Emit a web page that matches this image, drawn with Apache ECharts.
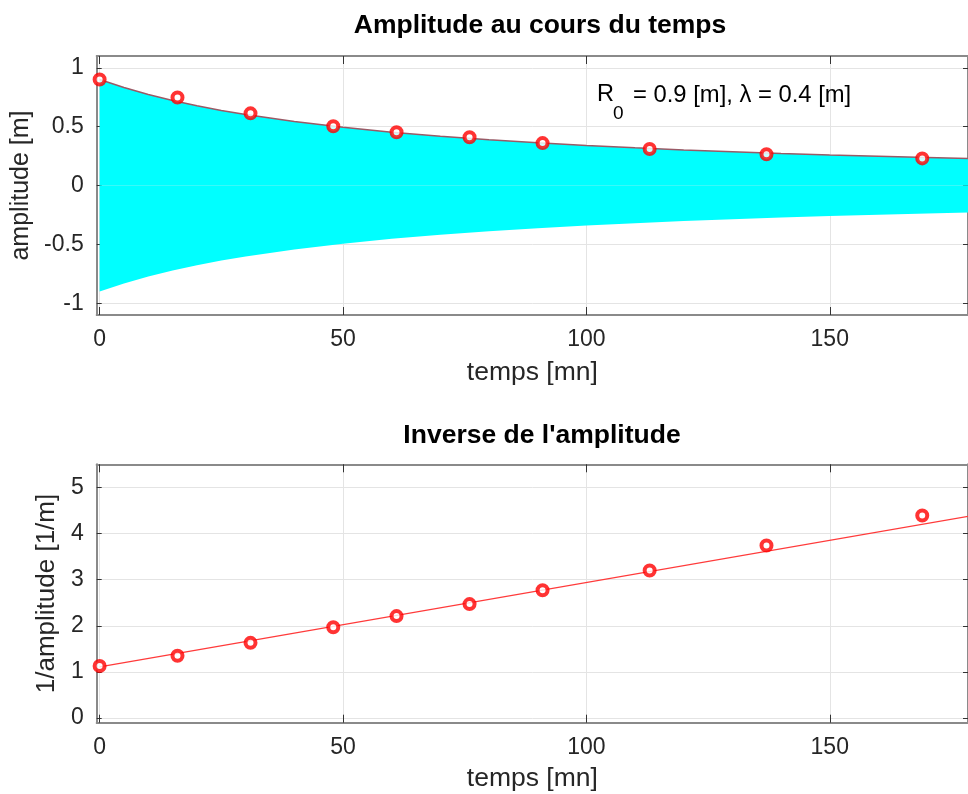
<!DOCTYPE html>
<html>
<head>
<meta charset="utf-8">
<script src="https://cdn.jsdelivr.net/npm/echarts@6/dist/echarts.min.js"></script>
<style>
  html, body { margin: 0; padding: 0; background: #ffffff; }
  #chart { width: 968px; height: 794px; }
</style>
</head>
<body>
<div id="chart"></div>
<script>
// Measured amplitudes of the damped oscillation (time in minutes, amplitude in metres)
const times = [0, 16, 31, 48, 61, 76, 91, 113, 137, 169];
const amplitudes = [0.90, 0.748, 0.613, 0.503, 0.452, 0.41, 0.36, 0.31, 0.265, 0.23];
const inverseAmplitudes = [1.13, 1.35, 1.63, 1.97, 2.21, 2.47, 2.77, 3.20, 3.74, 4.39];

// Fitted envelope R(t) of the oscillation
const envelopeTimes = [0, 5, 10, 15, 20, 25, 30, 40, 50, 60, 70, 80, 90, 100, 110, 120, 130, 140, 150, 160, 170, 180];
const envelopeValues = [0.901, 0.832, 0.773, 0.722, 0.678, 0.638, 0.603, 0.543, 0.494, 0.453, 0.418, 0.389, 0.363, 0.340, 0.320, 0.302, 0.287, 0.272, 0.259, 0.248, 0.237, 0.227];

// Straight-line fit of 1/amplitude
const fitTimes = [0, 180];
const fitValues = [1.11, 4.40];

// Tick positions
const timeTicks = [0, 50, 100, 150];
const amplitudeTicks = [-1, -0.5, 0, 0.5, 1];
const inverseTicks = [0, 1, 2, 3, 4, 5];

const FONT = '"Liberation Sans", Arial, Helvetica, sans-serif';
const TEXT = '#262626';
const AXIS = '#8a8a8a';
const GRIDLINE = '#e4e4e4';
const RED = '#ff0000';

const pairs = (xs, ys) => xs.map((x, i) => [x, ys[i]]);

const X_MIN = -0.6, X_MAX = 178.4;

function xAxisPair(gridIndex, nameGap) {
  const common = {
    type: 'value', gridIndex, min: X_MIN, max: X_MAX,
    axisLine: { show: true, onZero: false, lineStyle: { color: AXIS, width: 2 } },
    axisTick: { show: true, inside: true, length: 8, customValues: timeTicks, lineStyle: { color: '#333', width: 1 } },
    splitLine: { show: false }
  };
  return [
    Object.assign({}, common, {
      position: 'bottom',
      name: 'temps [mn]', nameLocation: 'middle', nameGap,
      nameTextStyle: { fontFamily: FONT, fontSize: 26.5, color: TEXT },
      axisLabel: { show: true, margin: 13, customValues: timeTicks, fontFamily: FONT, fontSize: 23, color: TEXT },
      splitLine: { show: true, lineStyle: { color: GRIDLINE, width: 1 } }
    }),
    Object.assign({}, common, {
      position: 'top',
      axisLabel: { show: false }
    })
  ];
}

function yAxisPair(gridIndex, min, max, ticks, name, nameGap, nameSize) {
  const common = {
    type: 'value', gridIndex, min, max,
    axisLine: { show: true, onZero: false, lineStyle: { color: AXIS, width: 2 } },
    axisTick: { show: true, inside: true, length: 5, customValues: ticks, lineStyle: { color: '#333', width: 1 } },
    splitLine: { show: false }
  };
  return [
    Object.assign({}, common, {
      position: 'left',
      name, nameLocation: 'middle', nameGap, nameRotate: 90,
      nameTextStyle: { fontFamily: FONT, fontSize: nameSize, color: TEXT },
      axisLabel: { show: true, margin: 13, customValues: ticks, fontFamily: FONT, fontSize: 23, color: TEXT },
      splitLine: { show: true, lineStyle: { color: GRIDLINE, width: 1 } }
    }),
    Object.assign({}, common, {
      position: 'right',
      axisLabel: { show: false }
    })
  ];
}

// Open red rings with a thick outline
const markerStyle = {
  symbol: 'circle', symbolSize: 10,
  itemStyle: { color: '#ffffff', borderColor: RED, borderWidth: 4 }
};

const option = {
  animation: false,
  backgroundColor: '#ffffff',
  title: [
    { text: 'Amplitude au cours du temps', left: 535, top: 7, textAlign: 'center',
      textStyle: { fontFamily: FONT, fontSize: 26.5, fontWeight: 'bold', color: '#000' } },
    { text: "Inverse de l'amplitude", left: 537, top: 417, textAlign: 'center',
      textStyle: { fontFamily: FONT, fontSize: 26.5, fontWeight: 'bold', color: '#000' } }
  ],
  grid: [
    { left: 96.7, top: 56, width: 872.3, height: 259 },
    { left: 96.7, top: 464.3, width: 872.3, height: 258.4 }
  ],
  xAxis: [...xAxisPair(0, 44), ...xAxisPair(1, 42)],
  yAxis: [
    ...yAxisPair(0, -1.1, 1.1, amplitudeTicks, 'amplitude [m]', 61, 25),
    ...yAxisPair(1, -0.1, 5.5, inverseTicks, '1/amplitude [1/m]', 35, 26)
  ],
  series: [
    // Filled band between +R(t) and -R(t)
    {
      type: 'line', xAxisIndex: 0, yAxisIndex: 0,
      data: pairs(envelopeTimes, envelopeValues),
      symbol: 'none', smooth: false,
      lineStyle: { color: '#9a5a66', width: 1.5 },
      areaStyle: { color: '#00ffff', opacity: 1 },
      z: 2
    },
    {
      type: 'line', xAxisIndex: 0, yAxisIndex: 0,
      data: pairs(envelopeTimes, envelopeValues.map(v => -v)),
      symbol: 'none', smooth: false,
      lineStyle: { width: 0 },
      areaStyle: { color: '#00ffff', opacity: 1 },
      z: 2
    },
    // Measured amplitudes
    Object.assign({
      type: 'scatter', xAxisIndex: 0, yAxisIndex: 0,
      data: pairs(times, amplitudes), z: 5
    }, markerStyle),
    // Linear fit of the inverse amplitude
    {
      type: 'line', xAxisIndex: 2, yAxisIndex: 2,
      data: pairs(fitTimes, fitValues),
      symbol: 'none',
      lineStyle: { color: '#ff3a3a', width: 1.2 },
      z: 3
    },
    Object.assign({
      type: 'scatter', xAxisIndex: 2, yAxisIndex: 2,
      data: pairs(times, inverseAmplitudes), z: 5
    }, markerStyle)
  ],
  graphic: [
    { type: 'text', left: 597, top: 83, z: 10,
      style: { text: 'R', fontFamily: FONT, fontSize: 23.5, fill: '#000' } },
    { type: 'text', left: 613, top: 104, z: 10,
      style: { text: '0', fontFamily: FONT, fontSize: 19, fill: '#000' } },
    { type: 'text', left: 633, top: 83, z: 10,
      style: { text: '= 0.9 [m], λ = 0.4 [m]', fontFamily: FONT, fontSize: 23.8, fill: '#000' } }
  ]
};

const chart = echarts.init(document.getElementById('chart'), null, { renderer: 'canvas' });
chart.setOption(option);
</script>
</body>
</html>
